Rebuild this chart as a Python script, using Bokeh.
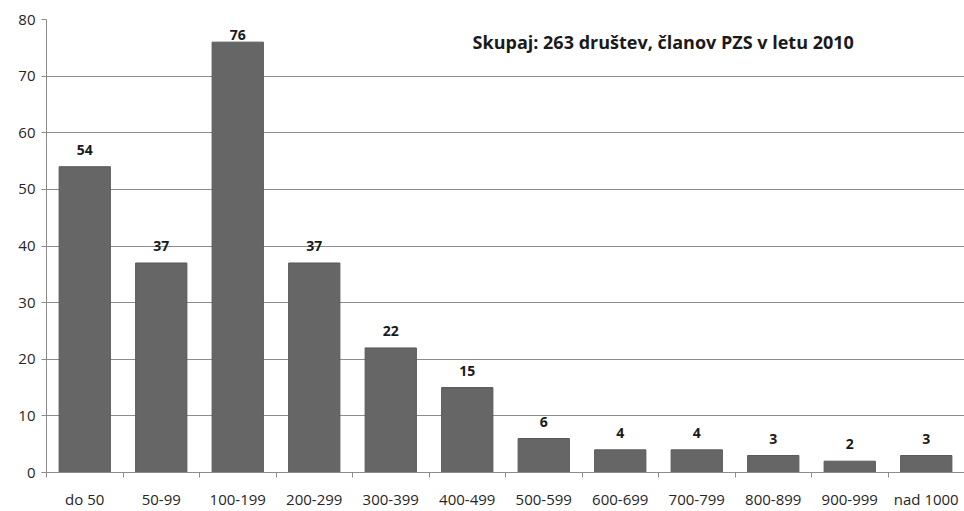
from bokeh.plotting import figure
from bokeh.models import Range1d, FixedTicker, Label, ColumnDataSource, LabelSet
from bokeh.core.properties import value
from bokeh.embed import file_html
from bokeh.resources import INLINE

categories = ["do 50", "50-99", "100-199", "200-299", "300-399", "400-499",
              "500-599", "600-699", "700-799", "800-899", "900-999", "nad 1000"]
counts = [54, 37, 76, 37, 22, 15, 6, 4, 4, 3, 2, 3]
y_ticks = [0, 10, 20, 30, 40, 50, 60, 70, 80]
title_text = "Skupaj: 263 društev, članov PZS v letu 2010"

n = len(categories)
centers = [i + 0.5 for i in range(n)]
bounds = [float(i) for i in range(n + 1)]

Y_MAX = 80
FRAME_H = 457
px_per_unit = FRAME_H / Y_MAX
# labels sit above bars but are kept inside the plot area (as in Excel)
label_offsets = [min(12, (Y_MAX - c) * px_per_unit - 21) for c in counts]

src = ColumnDataSource(dict(x=centers, top=counts, lbl=[str(c) for c in counts],
                            off=label_offsets))

FONT = "Open Sans"
TXT = "#262626"
GRID = "#8c8c8c"

p = figure(width=964, height=511, output_backend="svg", toolbar_location=None,
           x_range=Range1d(0, n), y_range=Range1d(0, Y_MAX),
           min_border_left=46, min_border_right=0, min_border_top=19, min_border_bottom=35)
p.outline_line_color = None
p.background_fill_color = "white"

p.vbar(x="x", top="top", width=0.67, bottom=0, source=src,
       fill_color="#666666", line_color="#595959", line_width=1)

labels = LabelSet(x="x", y="top", text="lbl", source=src, text_align="center",
                  text_baseline="bottom", y_offset="off", text_font=value(FONT),
                  text_font_size="14px", text_font_style="bold", text_color="#1a1a1a")
p.add_layout(labels)

p.add_layout(Label(x=5.57, y=76.0, text=title_text, text_font=FONT, text_font_size="18px",
                   text_font_style="bold", text_color="#1a1a1a", text_baseline="middle",
                   text_align="left"))

# x axis
xt = FixedTicker(ticks=centers, minor_ticks=bounds)
p.xaxis.ticker = xt
p.xaxis.major_label_overrides = {c: name for c, name in zip(centers, categories)}
p.xaxis.major_tick_line_color = None
p.xaxis.minor_tick_line_color = GRID
p.xaxis.minor_tick_out = 5
p.xaxis.minor_tick_in = 0
p.xaxis.axis_line_color = GRID
p.xaxis.major_label_text_font = FONT
p.xaxis.major_label_text_font_size = "15px"
p.xaxis.major_label_text_color = TXT
p.xaxis.major_label_standoff = 10

# y axis
p.yaxis.ticker = FixedTicker(ticks=y_ticks)
p.yaxis.minor_tick_line_color = None
p.yaxis.major_tick_line_color = GRID
p.yaxis.major_tick_out = 5
p.yaxis.major_tick_in = 0
p.yaxis.axis_line_color = GRID
p.yaxis.major_label_text_font = FONT
p.yaxis.major_label_text_font_size = "15px"
p.yaxis.major_label_text_color = TXT
p.yaxis.major_label_standoff = 6

p.xgrid.grid_line_color = None
p.ygrid.grid_line_color = GRID
p.ygrid.grid_line_width = 1

open("out.html", "w").write(file_html(p, INLINE))
